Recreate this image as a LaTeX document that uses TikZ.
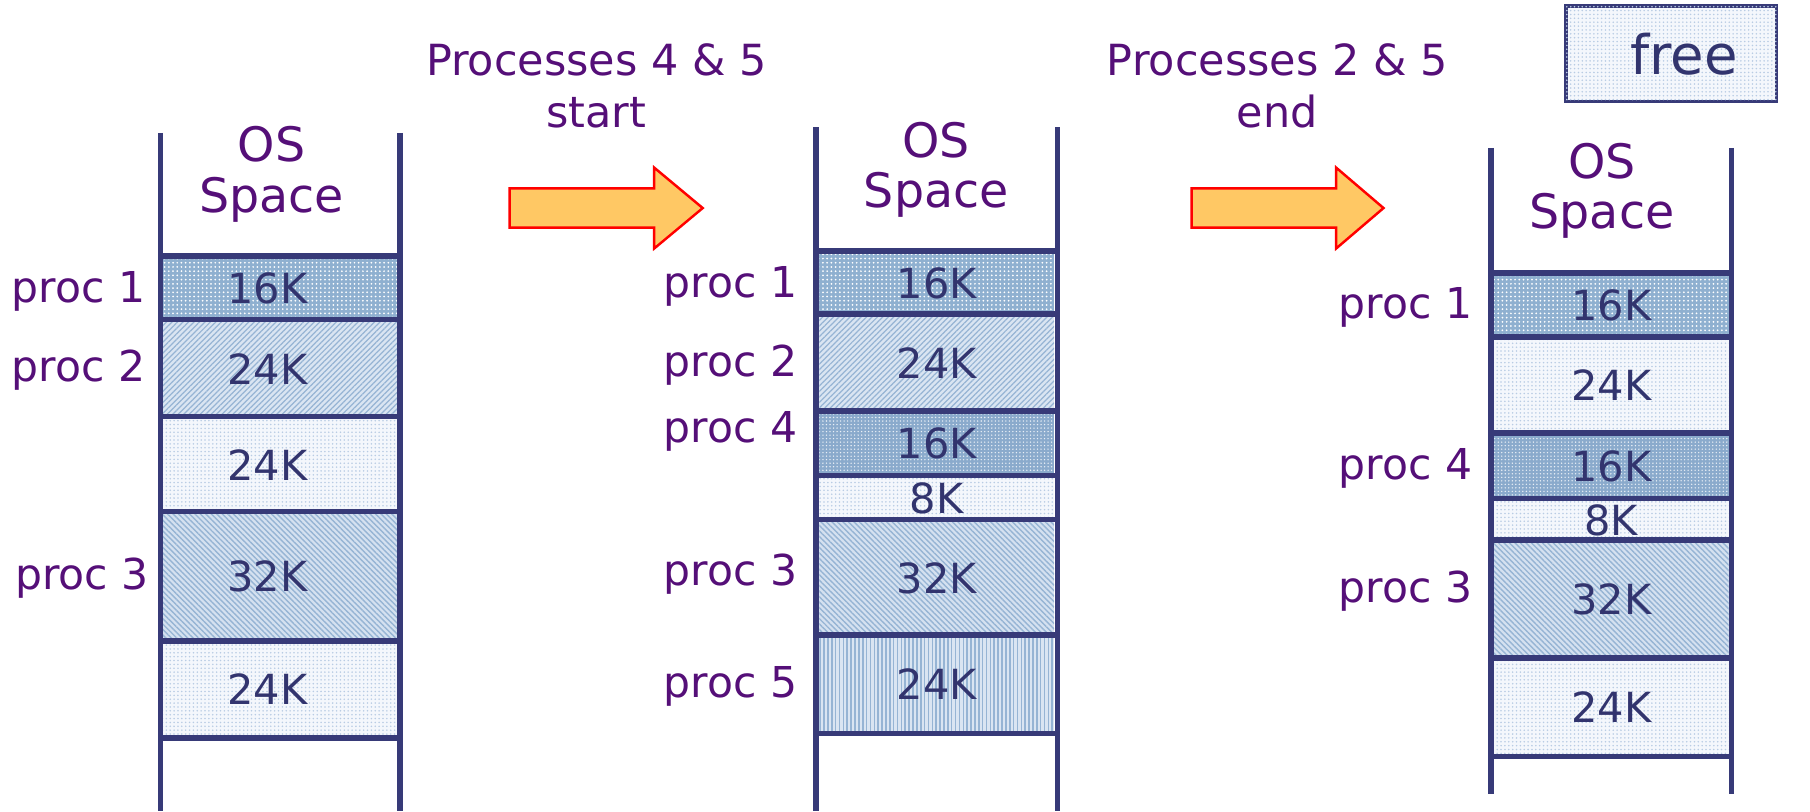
\documentclass[tikz,border=0pt]{standalone}
\usepackage{fontspec}
\setmainfont{DejaVu Sans}
\usetikzlibrary{patterns.meta}
\definecolor{wallc}{RGB}{55,58,120}
\definecolor{labc}{RGB}{85,15,120}
\definecolor{kc}{RGB}{50,52,110}
\definecolor{oneblue}{RGB}{143,176,208}
\definecolor{fourblue}{RGB}{138,170,204}
\definecolor{hatchbg}{RGB}{218,229,242}
\definecolor{hatchln}{RGB}{150,180,212}
\definecolor{freebg}{RGB}{244,247,252}
\definecolor{freedot}{RGB}{185,204,228}
\definecolor{arrowc}{RGB}{255,200,100}
\newlength\pxu
\setlength\pxu{0.011558cm}
\begin{document}
\begin{tikzpicture}[x=\pxu,y=-\pxu,
  every node/.style={font=\fontsize{11.8}{15.6}\selectfont},
  wall/.style={wallc,line width=1.6pt},
  sep/.style={wallc,line width=1.6pt},
  blk/.style={inner sep=0pt,minimum width=203*\pxu,text=kc},
  shiftleft/.style={execute at begin node=\hspace*{-22\pxu}},
  pone/.style={fill=oneblue,postaction={pattern={Dots[distance=1.2pt,radius=0.28pt]},pattern color=white}},
  pfour/.style={fill=fourblue,postaction={pattern={Dots[distance=1pt,radius=0.22pt]},pattern color=white!80!oneblue}},
  ptwo/.style={fill=hatchbg,postaction={pattern={Lines[angle=45,distance=1.1pt,line width=0.35pt]},pattern color=hatchln}},
  pthree/.style={fill=hatchbg!92!hatchln,postaction={pattern={Lines[angle=-45,distance=1.1pt,line width=0.4pt]},pattern color=hatchln}},
  pfive/.style={fill=hatchbg,postaction={pattern={Lines[angle=90,distance=1.1pt,line width=0.45pt]},pattern color=hatchln}},
  pfree/.style={fill=freebg,postaction={pattern={Dots[distance=1.1pt,radius=0.25pt]},pattern color=freedot}},
  lab/.style={text=labc,font=\fontsize{12.1}{15.6}\selectfont},
  ostext/.style={text=labc,align=center,font=\fontsize{13.5}{14.4}\selectfont},
  steptext/.style={text=labc,align=center,font=\fontsize{12.2}{14.8}\selectfont},
  bigarrow/.style={fill=arrowc,draw=red,line width=0.7pt,line join=miter}]
\useasboundingbox (0,0) rectangle (1566,702);
% first column
\node[blk,shiftleft,pone,minimum height=55*\pxu] (a1) at (242.5,249.5) {16K};
\node[blk,shiftleft,ptwo,minimum height=84*\pxu] (a2) at (242.5,319) {24K};
\node[blk,shiftleft,pfree,minimum height=82*\pxu] (a3) at (242.5,402) {24K};
\node[blk,shiftleft,pthree,minimum height=112*\pxu] (a4) at (242.5,499) {32K};
\node[blk,shiftleft,pfree,minimum height=83*\pxu] (a5) at (242.5,596.5) {24K};
\draw[sep] (a1.north west) -- (a1.north east);
\draw[sep] (a2.north west) -- (a2.north east);
\draw[sep] (a3.north west) -- (a3.north east);
\draw[sep] (a4.north west) -- (a4.north east);
\draw[sep] (a5.north west) -- (a5.north east);
\draw[sep] (a5.south west) -- (a5.south east);
\draw[wall] (139,115) -- (139,702);
\draw[wall] (346,115) -- (346,702);
\node[ostext] (os1) at (235,151) {OS\\Space};
\node[lab] (pa1) at (68,252) {proc 1};
\node[lab] (pa2) at (68,320) {proc 2};
\node[lab] (pa3) at (71,500) {proc 3};
% second column
\node[blk,pone,minimum height=54*\pxu] (b1) at (810.5,245) {16K};
\node[blk,ptwo,minimum height=84*\pxu] (b2) at (810.5,314) {24K};
\node[blk,pfour,minimum height=56*\pxu] (b3) at (810.5,384) {16K};
\node[blk,pfree,minimum height=38*\pxu] (b4) at (810.5,431) {8K};
\node[blk,pthree,minimum height=100*\pxu] (b5) at (810.5,500) {32K};
\node[blk,pfive,minimum height=84*\pxu] (b6) at (810.5,592) {24K};
\draw[sep] (b1.north west) -- (b1.north east);
\draw[sep] (b2.north west) -- (b2.north east);
\draw[sep] (b3.north west) -- (b3.north east);
\draw[sep] (b4.north west) -- (b4.north east);
\draw[sep] (b5.north west) -- (b5.north east);
\draw[sep] (b6.north west) -- (b6.north east);
\draw[sep] (b6.south west) -- (b6.south east);
\draw[wall] (706,110) -- (706,702);
\draw[wall] (915,110) -- (915,702);
\node[ostext] (os2) at (810,147) {OS\\Space};
\node[lab] (pb1) at (632,248) {proc 1};
\node[lab] (pb2) at (632,316) {proc 2};
\node[lab] (pb4) at (632,373) {proc 4};
\node[lab] (pb3) at (632,497) {proc 3};
\node[lab] (pb5) at (632,594) {proc 5};
% third column
\node[blk,pone,minimum height=55*\pxu] (c1) at (1394,264.5) {16K};
\node[blk,pfree,minimum height=83*\pxu] (c2) at (1394,333.5) {24K};
\node[blk,pfour,minimum height=57*\pxu] (c3) at (1394,403.5) {16K};
\node[blk,pfree,minimum height=36*\pxu] (c4) at (1394,450) {8K};
\node[blk,pthree,minimum height=102*\pxu] (c5) at (1394,519) {32K};
\node[blk,pfree,minimum height=84*\pxu] (c6) at (1394,612) {24K};
\draw[sep] (c1.north west) -- (c1.north east);
\draw[sep] (c2.north west) -- (c2.north east);
\draw[sep] (c3.north west) -- (c3.north east);
\draw[sep] (c4.north west) -- (c4.north east);
\draw[sep] (c5.north west) -- (c5.north east);
\draw[sep] (c6.north west) -- (c6.north east);
\draw[sep] (c6.south west) -- (c6.south east);
\draw[wall] (1290,128) -- (1290,687);
\draw[wall] (1498,128) -- (1498,687);
\node[ostext] (os3) at (1386,165) {OS\\Space};
\node[lab] (pc1) at (1216,266) {proc 1};
\node[lab] (pc4) at (1216,405) {proc 4};
\node[lab] (pc3) at (1216,511) {proc 3};
% steps between
\node[steptext] (t1) at (516,74.5) {Processes 4 \& 5\\start};
\node[steptext] (t2) at (1105,74.5) {Processes 2 \& 5\\end};
\draw[bigarrow] (441,163) -- (566,163) -- (566,145) -- (608,180) -- (566,215) -- (566,197) -- (441,197) -- cycle;
\draw[bigarrow] (1031,163) -- (1156,163) -- (1156,145) -- (1197,180) -- (1156,215) -- (1156,197) -- (1031,197) -- cycle;
% key
\draw[wallc,line width=1pt,pfree] (1355,5) rectangle (1537,88);
\node[text=kc,font=\fontsize{15.5}{17}\selectfont] (key) at (1457,47) {free};
\end{tikzpicture}
\end{document}
